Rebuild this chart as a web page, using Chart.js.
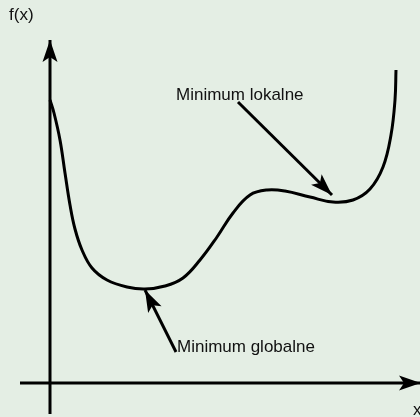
<!DOCTYPE html>
<html>
<head>
<meta charset="utf-8">
<script src="https://cdn.jsdelivr.net/npm/chart.js@4"></script>
<style>
  html, body { margin: 0; padding: 0; background: #e4eee4; }
  #wrap { width: 420px; height: 417px; }
</style>
</head>
<body>
<div id="wrap"><canvas id="myChart" width="420" height="417"></canvas></div>
<script>
// function curve f(x)
const curveX = [0, 0.4, 1.0, 1.5, 2.0, 2.5, 3.2, 4.2, 5.7, 7.7, 9.5, 11.5, 13.3, 15.0, 16.7, 18.3, 20.0, 21.7, 23.5, 26.0, 28.3, 30.3, 32.0, 33.3, 34.1, 34.5, 34.6];
const curveY = [28.3, 27.0, 24.3, 21.0, 17.8, 15.4, 13.3, 11.5, 10.3, 9.6, 9.4, 9.7, 10.5, 12.3, 14.6, 17.0, 18.8, 19.3, 19.2, 18.6, 18.1, 18.3, 19.4, 21.6, 24.8, 28.3, 31.3];

// axes (start -> tip)
const yAxisLine = [[0, -3.1], [0, 34.3]];
const xAxisLine = [[-3, 0], [37.1, 0]];

// annotation arrows (tail at label -> tip at minimum)
const localArrow = [[18.8, 28.1], [28.2, 18.8]];
const globalArrow = [[12.6, 3.1], [9.5, 9.3]];

// texts
const labelTexts = ['f(x)', 'x', 'Minimum lokalne', 'Minimum globalne'];
const labelX = [-4.1, 36.3, 12.6, 12.7];
const labelY = [36.8, -2.7, 28.8, 3.6];

function pts(arr) {
    return arr.map(function (p) { return { x: p[0], y: p[1] }; });
}

// draws barbed arrow heads at the last point of datasets marked arrow:true
const arrowHeads = {
    id: 'arrowHeads',
    afterDatasetsDraw: function (chart) {
        const c = chart.ctx;
        chart.data.datasets.forEach(function (ds, i) {
            if (!ds.arrow) return;
            const els = chart.getDatasetMeta(i).data;
            const a = els[els.length - 2], b = els[els.length - 1];
            const ang = Math.atan2(b.y - a.y, b.x - a.x);
            const len = 22, half = 7.5, notch = 5;
            c.save();
            c.translate(b.x, b.y);
            c.rotate(ang);
            c.fillStyle = '#000';
            c.beginPath();
            c.moveTo(0, 0);
            c.lineTo(-len, -half);
            c.lineTo(-len + notch, 0);
            c.lineTo(-len, half);
            c.closePath();
            c.fill();
            c.restore();
        });
    }
};

// text labels placed via the scales
const textLabels = {
    id: 'textLabels',
    afterDraw: function (chart) {
        const c = chart.ctx;
        const sx = chart.scales.x, sy = chart.scales.y;
        c.save();
        c.font = '17px "Liberation Sans", Arial, sans-serif';
        c.fillStyle = '#111';
        c.textBaseline = 'middle';
        c.textAlign = 'left';
        labelTexts.forEach(function (t, i) {
            c.fillText(t, sx.getPixelForValue(labelX[i]), sy.getPixelForValue(labelY[i]));
        });
        c.restore();
    }
};

function lineSet(data, arrow, extra) {
    return Object.assign({
        data: data,
        borderColor: '#000',
        borderWidth: 3,
        pointRadius: 0,
        showLine: true,
        fill: false,
        arrow: arrow
    }, extra || {});
}

const ctx = document.getElementById('myChart').getContext('2d');
const myChart = new Chart(ctx, {
    type: 'scatter',
    data: {
        datasets: [
            lineSet(curveX.map(function (x, i) { return { x: x, y: curveY[i] }; }), false, { tension: 0.4 }),
            lineSet(pts(yAxisLine), true),
            lineSet(pts(xAxisLine), true),
            lineSet(pts(localArrow), true),
            lineSet(pts(globalArrow), true)
        ]
    },
    options: {
        responsive: false,
        animation: false,
        layout: { padding: 0 },
        plugins: {
            legend: { display: false },
            tooltip: { enabled: false }
        },
        scales: {
            x: { type: 'linear', min: -5, max: 37, display: false },
            y: { type: 'linear', min: -3.4, max: 38.3, display: false }
        }
    },
    plugins: [arrowHeads, textLabels]
});
</script>
</body>
</html>
